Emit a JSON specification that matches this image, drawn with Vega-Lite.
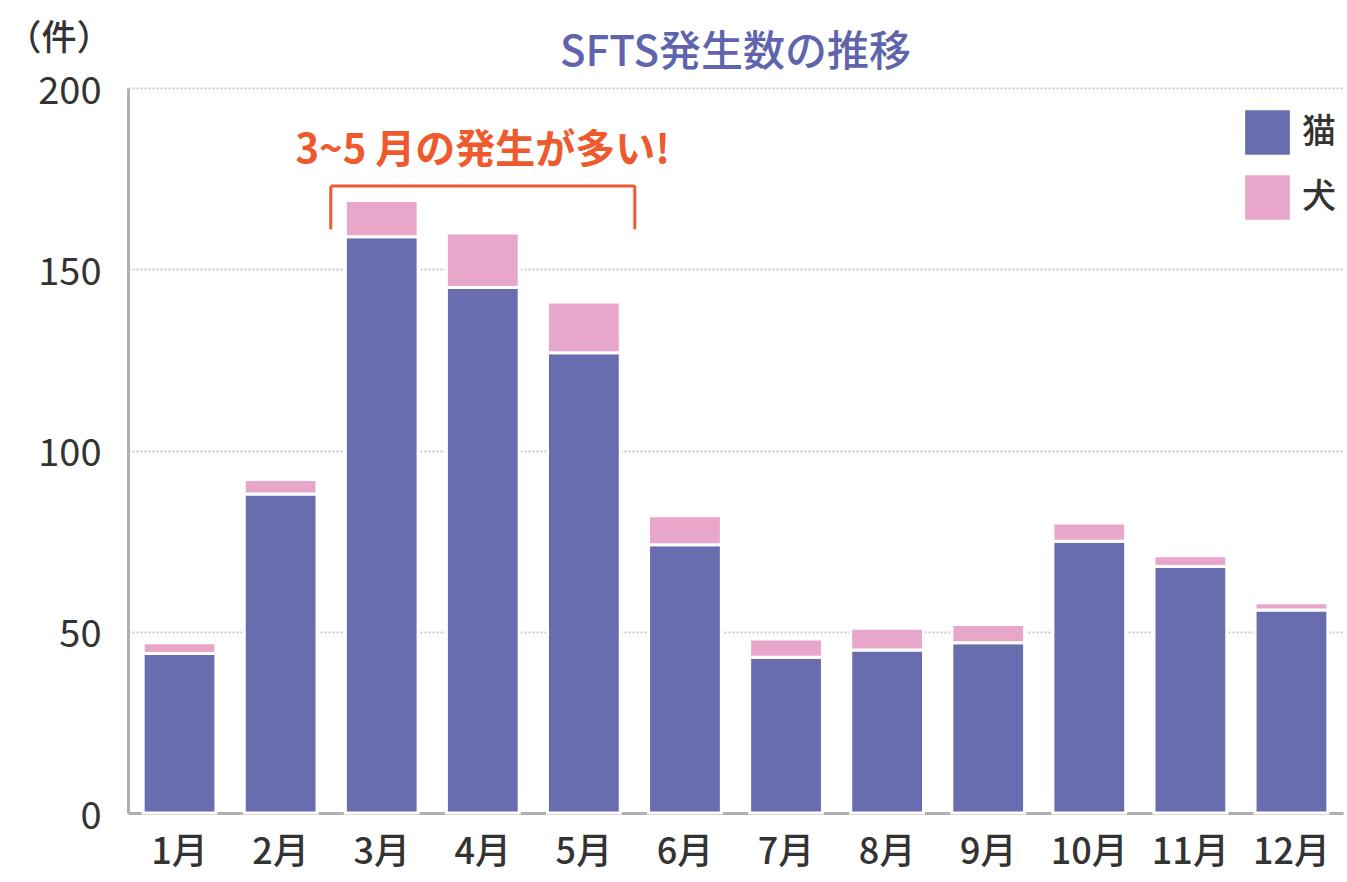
{
  "$schema": "https://vega.github.io/schema/vega-lite/v6.json",
  "width": 1215,
  "height": 725,
  "autosize": {"type": "none"},
  "padding": {"left": 128, "top": 88, "right": 4, "bottom": 69},
  "background": "white",
  "title": {
    "text": "SFTS発生数の推移",
    "anchor": "middle",
    "fontSize": 42,
    "fontWeight": 500,
    "font": "Noto Sans CJK JP",
    "color": "#5f64ac",
    "offset": 18,
    "dy": 72
  },
  "datasets": {
    "bars": [
      {"month": "1月", "animal": "猫", "count": 44},
      {"month": "1月", "animal": "犬", "count": 3},
      {"month": "2月", "animal": "猫", "count": 88},
      {"month": "2月", "animal": "犬", "count": 4},
      {"month": "3月", "animal": "猫", "count": 159},
      {"month": "3月", "animal": "犬", "count": 10},
      {"month": "4月", "animal": "猫", "count": 145},
      {"month": "4月", "animal": "犬", "count": 15},
      {"month": "5月", "animal": "猫", "count": 127},
      {"month": "5月", "animal": "犬", "count": 14},
      {"month": "6月", "animal": "猫", "count": 74},
      {"month": "6月", "animal": "犬", "count": 8},
      {"month": "7月", "animal": "猫", "count": 43},
      {"month": "7月", "animal": "犬", "count": 5},
      {"month": "8月", "animal": "猫", "count": 45},
      {"month": "8月", "animal": "犬", "count": 6},
      {"month": "9月", "animal": "猫", "count": 47},
      {"month": "9月", "animal": "犬", "count": 5},
      {"month": "10月", "animal": "猫", "count": 75},
      {"month": "10月", "animal": "犬", "count": 5},
      {"month": "11月", "animal": "猫", "count": 68},
      {"month": "11月", "animal": "犬", "count": 3},
      {"month": "12月", "animal": "猫", "count": 56},
      {"month": "12月", "animal": "犬", "count": 2}
    ],
    "bracket": [
      {"from": "3月", "to": "5月", "top": 173, "bottom": 161, "mid": "4月", "label": "3~5 月の発生が多い!", "labelY": 182.5}
    ]
  },
  "config": {
    "view": {"stroke": null},
    "font": "Noto Sans CJK JP"
  },
  "layer": [
    {
      "data": {"name": "bars"},
      "mark": {"type": "bar", "stroke": "white", "strokeWidth": 3},
      "encoding": {
        "x": {
          "field": "month",
          "type": "nominal",
          "scale": {"domain": ["1月","2月","3月","4月","5月","6月","7月","8月","9月","10月","11月","12月"], "paddingInner": 0.28, "paddingOuter": 0.15},
          "axis": {
            "title": null,
            "labelAngle": 0,
            "labelFontSize": 36,
            "labelFont": "Noto Sans CJK JP",
            "labelFontWeight": 500,
            "labelColor": "#333333",
            "labelPadding": 22,
            "ticks": false,
            "domainColor": "#b0b0b0",
            "domainWidth": 3
          }
        },
        "y": {
          "field": "count",
          "type": "quantitative",
          "stack": "zero",
          "scale": {"domain": [0, 200]},
          "axis": {
            "values": [0, 50, 100, 150, 200],
            "title": "（件）",
            "titleAngle": 0,
            "titleAlign": "left",
            "titleBaseline": "middle",
            "titleX": -122,
            "titleY": -50,
            "titleFontSize": 35,
            "titleFontWeight": 500,
            "titleColor": "#333333",
            "labelFontSize": 38,
            "labelFontWeight": 400,
            "labelColor": "#333333",
            "labelPadding": 27,
            "labelOffset": 4,
            "ticks": false,
            "domainColor": "#b0b0b0",
            "domainWidth": 3,
            "grid": true,
            "gridColor": "#c8c8c8",
            "gridDash": [2, 2],
            "gridWidth": 2
          }
        },
        "color": {
          "field": "animal",
          "type": "nominal",
          "scale": {"domain": ["猫", "犬"], "range": ["#676dae", "#e8a6ca"]},
          "legend": {
            "title": null,
            "orient": "none",
            "legendX": 1117,
            "legendY": 22,
            "symbolType": "square",
            "symbolSize": 2000,
            "symbolStrokeWidth": 0,
            "labelFontSize": 34,
            "labelFontWeight": 500,
            "labelColor": "#333333",
            "rowPadding": 20,
            "labelOffset": 12
          }
        },
        "order": {"field": "animal", "sort": "descending"}
      }
    },
    {
      "data": {"name": "bracket"},
      "mark": {"type": "rule", "color": "#ee5a2e", "strokeWidth": 3},
      "encoding": {
        "x": {"field": "from", "type": "nominal", "bandPosition": -0.2},
        "x2": {"field": "to", "bandPosition": 1.2},
        "y": {"field": "top", "type": "quantitative"}
      }
    },
    {
      "data": {"name": "bracket"},
      "mark": {"type": "rule", "color": "#ee5a2e", "strokeWidth": 3},
      "encoding": {
        "x": {"field": "from", "type": "nominal", "bandPosition": -0.2},
        "y": {"field": "top", "type": "quantitative"},
        "y2": {"field": "bottom"}
      }
    },
    {
      "data": {"name": "bracket"},
      "mark": {"type": "rule", "color": "#ee5a2e", "strokeWidth": 3},
      "encoding": {
        "x": {"field": "to", "type": "nominal", "bandPosition": 1.2},
        "y": {"field": "top", "type": "quantitative"},
        "y2": {"field": "bottom"}
      }
    },
    {
      "data": {"name": "bracket"},
      "mark": {"type": "text", "color": "#ee5a2e", "fontSize": 40, "fontWeight": "bold", "font": "Noto Sans CJK JP", "baseline": "middle"},
      "encoding": {
        "x": {"field": "mid", "type": "nominal"},
        "y": {"field": "labelY", "type": "quantitative"},
        "text": {"field": "label"}
      }
    }
  ]
}
